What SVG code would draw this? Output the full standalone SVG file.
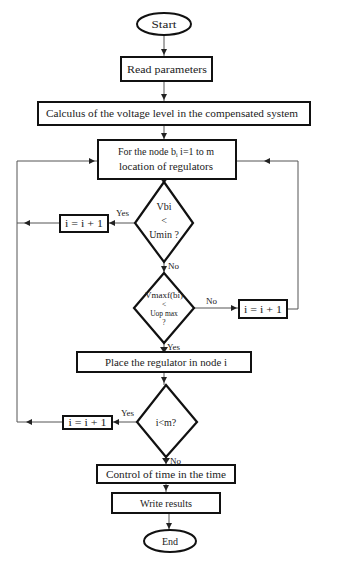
<svg xmlns="http://www.w3.org/2000/svg" width="363" height="563" viewBox="0 0 363 563">
<style>
.box{fill:#fff;stroke:#111;stroke-width:2}
.dia{fill:#fff;stroke:#111;stroke-width:2.2}
.ln{fill:none;stroke:#555;stroke-width:1}
.ah{fill:#222}
text{font-family:"Liberation Serif","Times New Roman",serif;font-size:10px;fill:#222;text-anchor:middle}
.lb{text-anchor:start;font-size:9px}
.sm{font-size:7.5px}
</style>
<rect width="363" height="563" fill="#fff"/>
<g id="connectors">
<path class="ln" d="M164 35V57M164 81V102M164 125V140M164 179V181M164 262V273M164 343V352M164 372V385M166 457V465M166 483V493M169 513V531"/>
<path class="ln" d="M135 223H108M60 223H17M194 308H239M287 309H298V161H236M137 422H112M63 422H17V161H98"/>
<polygon class="ah" points="161,49 167,49 164,55"/>
<polygon class="ah" points="161,94 167,94 164,100"/>
<polygon class="ah" points="161,133 167,133 164,139"/>
<polygon class="ah" points="160,178 168,178 164,184"/>
<polygon class="ah" points="161,266 167,266 164,272"/>
<polygon class="ah" points="160,347 168,347 164,353"/>
<polygon class="ah" points="161,377 167,377 164,383"/>
<polygon class="ah" points="162,458 170,458 166,464"/>
<polygon class="ah" points="163,485 169,485 166,491"/>
<polygon class="ah" points="166,523 172,523 169,529"/>
<polygon class="ah" points="109,223 115,220 115,226"/>
<polygon class="ah" points="24,223 30,220 30,226"/>
<polygon class="ah" points="237,308 231,305 231,311"/>
<polygon class="ah" points="264,161 270,158 270,164"/>
<polygon class="ah" points="113,422 119,419 119,425"/>
<polygon class="ah" points="26,422 32,419 32,425"/>
<polygon class="ah" points="95,161 89,158 89,164"/>
<text class="lb" x="116" y="216">Yes</text>
<text class="lb" x="168" y="269">No</text>
<text class="lb" x="206" y="304">No</text>
<text class="lb" x="167" y="350">Yes</text>
<text class="lb" x="121" y="416">Yes</text>
<text class="lb" x="170" y="464">No</text>
</g>
<g id="start"><ellipse class="box" cx="164" cy="24" rx="27" ry="11"/><text x="164" y="27.5" textLength="25" lengthAdjust="spacingAndGlyphs">Start</text></g>
<g id="read"><rect class="box" x="121" y="57" width="91" height="24"/><text x="167" y="72.5" textLength="80" lengthAdjust="spacingAndGlyphs">Read parameters</text></g>
<g id="calc"><rect class="box" x="38" y="102" width="272" height="23"/><text x="172" y="117" textLength="252" lengthAdjust="spacingAndGlyphs">Calculus of the voltage level in the compensated system</text></g>
<g id="fornode"><rect class="box" x="98" y="140" width="138" height="39"/><text x="166" y="155">For the node b<tspan font-size="6" dy="2">i</tspan><tspan dy="-2"> i=1 to m</tspan></text><text x="166" y="170" textLength="94" lengthAdjust="spacingAndGlyphs">location of regulators</text></g>
<g id="dec1"><polygon class="dia" points="164,182 193,223 164,262 135,223"/><text x="164" y="210">Vbi</text><text x="164" y="224">&lt;</text><text x="164" y="238">Umin ?</text></g>
<g id="inc1"><rect class="box" x="60" y="215" width="48" height="17"/><text x="84" y="227" textLength="38" lengthAdjust="spacingAndGlyphs">i = i + 1</text></g>
<g id="dec2"><polygon class="dia" points="164,273 194,308 164,343 134,308"/><text class="sm" x="164" y="298" textLength="38" lengthAdjust="spacingAndGlyphs">Vmaxf(bi)</text><text class="sm" x="164" y="307">&lt;</text><text class="sm" x="164" y="316">Uop max</text><text class="sm" x="164" y="325">?</text></g>
<g id="inc2"><rect class="box" x="239" y="300" width="48" height="18"/><text x="263" y="312.5" textLength="38" lengthAdjust="spacingAndGlyphs">i = i + 1</text></g>
<g id="place"><rect class="box" x="77" y="352" width="174" height="20"/><text x="166" y="365.5" textLength="122" lengthAdjust="spacingAndGlyphs">Place the regulator in node i</text></g>
<g id="dec3"><polygon class="dia" points="166,385 197,422 166,457 137,422"/><text x="166" y="426" font-size="11">i&lt;m?</text></g>
<g id="inc3"><rect class="box" x="63" y="416" width="49" height="13"/><text x="87.5" y="425.5" textLength="38" lengthAdjust="spacingAndGlyphs">i = i + 1</text></g>
<g id="control"><rect class="box" x="97" y="465" width="138" height="18"/><text x="166" y="477.5" textLength="120" lengthAdjust="spacingAndGlyphs">Control of time in the time</text></g>
<g id="write"><rect class="box" x="112" y="493" width="108" height="20"/><text x="166" y="506.5" textLength="52" lengthAdjust="spacingAndGlyphs">Write results</text></g>
<g id="end"><ellipse class="box" cx="170" cy="541" rx="26" ry="11"/><text x="170" y="544.5">End</text></g>
</svg>
